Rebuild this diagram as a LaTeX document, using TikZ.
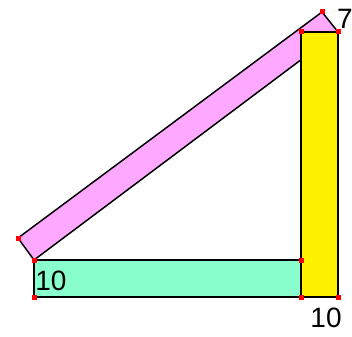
\documentclass[tikz,border=0pt]{standalone}
\usepackage{fontspec}
\setmainfont{Liberation Sans}
\begin{document}
\begin{tikzpicture}[x=1pt,y=-1pt,
  outl/.style={draw=black,line width=1.5pt,line join=miter},
  dot/.style={fill=red,minimum size=5pt,inner sep=0pt,outer sep=0pt},
  lbl/.style={font=\fontsize{28}{32}\selectfont,inner sep=0pt}]
\useasboundingbox (0,0) rectangle (352,336);
\coordinate (pA) at (34,260);
\coordinate (pB) at (18,238);
\coordinate (pC) at (322,12);
\coordinate (pD) at (338,32);
\fill[fill={rgb,255:red,255;green,168;blue,255}] (pA) -- (pB) -- (pC) -- (pD) -- cycle;
\draw[outl] (pA) -- (pB) -- (pC) -- (pD) -- cycle;
\draw[outl,fill={rgb,255:red,136;green,255;blue,204}] (34,260) rectangle (301,297);
\draw[outl,fill=yellow] (301,32) rectangle (338,297);
\foreach \p/\n in {{(18,238)}/d1,{(34,260)}/d2,{(322,12)}/d3,{(338,32)}/d4,{(301,32)}/d5,{(301,260)}/d6,{(34,297)}/d7,{(301,297)}/d8,{(338,297)}/d9}
  \node[dot] (\n) at \p {};
\node[lbl,anchor=center] (t1) at (51,281) {10};
\node[lbl,anchor=center] (t2) at (326,318) {10};
\node[lbl,anchor=center] (t3) at (345,19) {7};
\end{tikzpicture}
\end{document}
